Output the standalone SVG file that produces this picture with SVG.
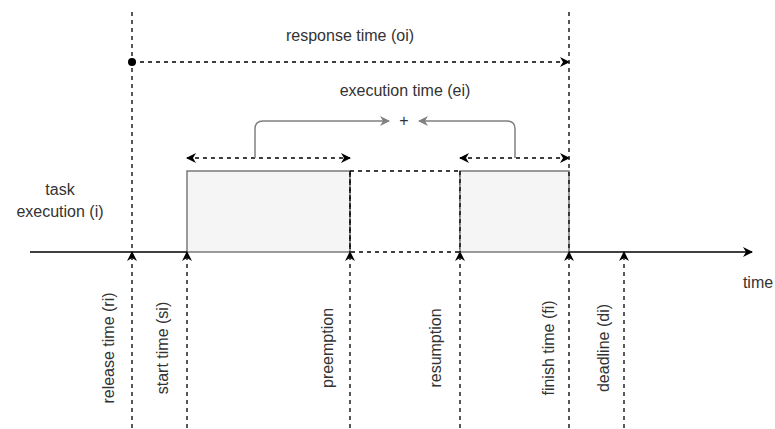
<svg xmlns="http://www.w3.org/2000/svg" width="775" height="429" viewBox="0 0 775 429">
<defs>
<style>
text{font-family:"Liberation Sans",Arial,sans-serif;font-size:16px;fill:#333}
.d{fill:none;stroke:#000;stroke-width:1.3;stroke-dasharray:4 4}
.s{fill:none;stroke:#000;stroke-width:1.3}
.g{fill:none;stroke:#808080;stroke-width:1.5}
.box{fill:#f5f5f5;stroke:#666;stroke-width:1.3}
</style>
<marker id="a" viewBox="0 0 10 10" refX="9" refY="5" markerWidth="10" markerHeight="10" markerUnits="userSpaceOnUse" orient="auto-start-reverse">
<path d="M0,0 L10,5 L0,10 L3,5 Z" fill="#000"/>
</marker>
<marker id="ag" viewBox="0 0 10 10" refX="9" refY="5" markerWidth="10" markerHeight="10" markerUnits="userSpaceOnUse" orient="auto">
<path d="M0,0 L10,5 L0,10 L3,5 Z" fill="#808080"/>
</marker>
</defs>
<rect width="775" height="429" fill="#fff"/>
<g id="task1"><rect class="box" x="187" y="171" width="163" height="81"/></g>
<g id="gap"><rect class="d" x="350" y="171" width="110" height="81"/></g>
<g id="task2"><rect class="box" x="460" y="171" width="109" height="81"/></g>
<g id="connectors">
<line class="s" x1="30" y1="252" x2="187" y2="252"/>
<line class="s" x1="569" y1="252" x2="752" y2="252" marker-end="url(#a)"/>
<line class="d" x1="132" y1="12" x2="132" y2="252"/>
<line class="d" x1="569" y1="12" x2="569" y2="252"/>
<line class="d" x1="350" y1="171" x2="350" y2="252"/>
<line class="d" x1="460" y1="171" x2="460" y2="252"/>
<line class="d" x1="132" y1="428" x2="132" y2="252" marker-end="url(#a)"/>
<line class="d" x1="187" y1="428" x2="187" y2="252" marker-end="url(#a)"/>
<line class="d" x1="350" y1="428" x2="350" y2="252" marker-end="url(#a)"/>
<line class="d" x1="460" y1="428" x2="460" y2="252" marker-end="url(#a)"/>
<line class="d" x1="569" y1="428" x2="569" y2="252" marker-end="url(#a)"/>
<line class="d" x1="624" y1="428" x2="624" y2="252" marker-end="url(#a)"/>
<line class="d" x1="132" y1="62" x2="569" y2="62" marker-end="url(#a)"/>
<circle cx="132" cy="62" r="4" fill="#000"/>
<line class="d" x1="187" y1="158" x2="350" y2="158" marker-start="url(#a)" marker-end="url(#a)"/>
<line class="d" x1="460" y1="158" x2="569" y2="158" marker-start="url(#a)" marker-end="url(#a)"/>
<path class="g" d="M255,158 V129 Q255,121 263,121 H389" marker-end="url(#ag)"/>
<path class="g" d="M515,158 V129 Q515,121 507,121 H419" marker-end="url(#ag)"/>
</g>
<g id="labels">
<text x="350" y="41" text-anchor="middle">response time (oi)</text>
<text x="405" y="96" text-anchor="middle">execution time (ei)</text>
<text x="404" y="126" text-anchor="middle">+</text>
<text x="60" y="195" text-anchor="middle">task</text>
<text x="60" y="217" text-anchor="middle">execution (i)</text>
<text x="758" y="288" text-anchor="middle">time</text>
<text transform="translate(108,348) rotate(-90)" text-anchor="middle" dominant-baseline="central">release time (ri)</text>
<text transform="translate(162,348) rotate(-90)" text-anchor="middle" dominant-baseline="central">start time (si)</text>
<text transform="translate(327,348) rotate(-90)" text-anchor="middle" dominant-baseline="central">preemption</text>
<text transform="translate(435,348) rotate(-90)" text-anchor="middle" dominant-baseline="central">resumption</text>
<text transform="translate(548,348) rotate(-90)" text-anchor="middle" dominant-baseline="central">finish time (fi)</text>
<text transform="translate(603,348) rotate(-90)" text-anchor="middle" dominant-baseline="central">deadline (di)</text>
</g>
</svg>
